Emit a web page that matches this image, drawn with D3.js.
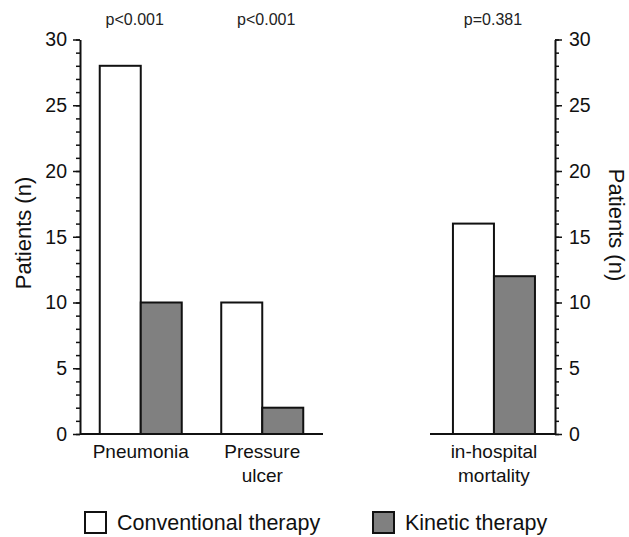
<!DOCTYPE html>
<html><head><meta charset="utf-8">
<script src="https://cdn.jsdelivr.net/npm/d3@7"></script>
<style>body{margin:0;background:#fff}svg{display:block}text{font-family:"Liberation Sans",Arial,sans-serif}</style>
</head><body><svg id="c" width="629" height="537"></svg>
<script>
const leftCategories = ["Pneumonia", "Pressure ulcer"];
const rightCategories = ["in-hospital mortality"];
const leftLabels = [["Pneumonia"], ["Pressure", "ulcer"]];
const rightLabels = [["in-hospital", "mortality"]];
const series = ["Conventional therapy", "Kinetic therapy"];
const conventional = [28, 10, 16];
const kinetic = [10, 2, 12];
const pValues = ["p<0.001", "p<0.001", "p=0.381"];
const majorTicks = [0, 5, 10, 15, 20, 25, 30];
const colors = ["#ffffff", "#808080"];

const svg = d3.select("#c");
const y = d3.scaleLinear().domain([0, 30]).range([434, 39.5]);
const minorTicks = d3.range(0, 31, 1);

const xL = d3.scaleBand().domain(leftCategories).range([80, 323]).paddingInner(0.325).paddingOuter(0.1625);
const xR = d3.scaleBand().domain(rightCategories).range([430, 555]).paddingInner(0).paddingOuter(0.29);
const allCats = leftCategories.concat(rightCategories);
const xOf = c => leftCategories.includes(c) ? xL(c) : xR(c);
const bw = xL.bandwidth();
const sub = d3.scaleBand().domain(series).range([0, bw]);

const rows = allCats.map((c, i) => ({cat: c, vals: [conventional[i], kinetic[i]]}));

// p-value label placement across the whole plot (evenly spread labels over left panel)
const pShift = [-6, 4, -1];

rows.forEach((r, i) => {
  series.forEach((s, j) => {
    svg.append("rect")
      .attr("x", xOf(r.cat) + sub(s))
      .attr("y", y(r.vals[j]))
      .attr("width", sub.bandwidth())
      .attr("height", y(0) - y(r.vals[j]))
      .attr("fill", colors[j]).attr("stroke", "#111").attr("stroke-width", 2);
  });
  svg.append("text").attr("x", xOf(r.cat) + bw / 2 + pShift[i]).attr("y", 25)
    .attr("text-anchor", "middle").attr("font-size", 16).attr("fill", "#222").text(pValues[i]);
});

// baselines
svg.append("line").attr("x1", 80).attr("x2", 323).attr("y1", y(0)).attr("y2", y(0)).attr("stroke", "#111").attr("stroke-width", 2);
svg.append("line").attr("x1", 430).attr("x2", 555).attr("y1", y(0)).attr("y2", y(0)).attr("stroke", "#111").attr("stroke-width", 2);

function styleAxis(g) {
  g.selectAll("path").attr("stroke", "#111").attr("stroke-width", 2);
  g.selectAll("line").attr("stroke", "#111").attr("stroke-width", 1.5);
  g.selectAll("text").attr("font-size", 19.5).attr("fill", "#111").attr("font-family", "Liberation Sans, Arial, sans-serif");
}
// left axis
const gLm = svg.append("g").attr("transform", "translate(80,0)")
  .call(d3.axisLeft(y).tickValues(minorTicks).tickSize(4).tickFormat("").tickSizeOuter(0));
styleAxis(gLm);
const gL = svg.append("g").attr("transform", "translate(80,0)")
  .call(d3.axisLeft(y).tickValues(majorTicks).tickSize(7).tickPadding(6).tickSizeOuter(0));
styleAxis(gL); gL.select("path").remove();
// right axis
const gRm = svg.append("g").attr("transform", "translate(555,0)")
  .call(d3.axisRight(y).tickValues(minorTicks).tickSize(4).tickFormat("").tickSizeOuter(0));
styleAxis(gRm);
const gR = svg.append("g").attr("transform", "translate(555,0)")
  .call(d3.axisRight(y).tickValues(majorTicks).tickSize(7).tickPadding(7).tickSizeOuter(0));
styleAxis(gR); gR.select("path").remove();

// axis titles
svg.append("text").attr("transform", `translate(31,233) rotate(-90)`)
  .attr("text-anchor", "middle").attr("font-size", 22).attr("fill", "#111").text("Patients (n)");
svg.append("text").attr("transform", `translate(609,225) rotate(90)`)
  .attr("text-anchor", "middle").attr("font-size", 22).attr("fill", "#111").text("Patients (n)");

// category labels
const labelSets = leftCategories.map((c, i) => ({c, l: leftLabels[i]})).concat(rightCategories.map((c, i) => ({c, l: rightLabels[i]})));
labelSets.forEach(d => {
  d.l.forEach((line, k) => {
    svg.append("text").attr("x", xOf(d.c) + bw / 2).attr("y", 458 + k * 24)
      .attr("text-anchor", "middle").attr("font-size", 19).attr("fill", "#111").text(line);
  });
});

// legend
const legendX = [85, 373];
series.forEach((s, j) => {
  const g = svg.append("g").attr("transform", `translate(${legendX[j]},512)`);
  g.append("rect").attr("x", 0).attr("y", 0).attr("width", 21).attr("height", 21)
    .attr("fill", colors[j]).attr("stroke", "#111").attr("stroke-width", 2);
  g.append("text").attr("x", 32).attr("y", 18).attr("font-size", 21.5).attr("fill", "#111").text(s);
});
</script></body></html>
